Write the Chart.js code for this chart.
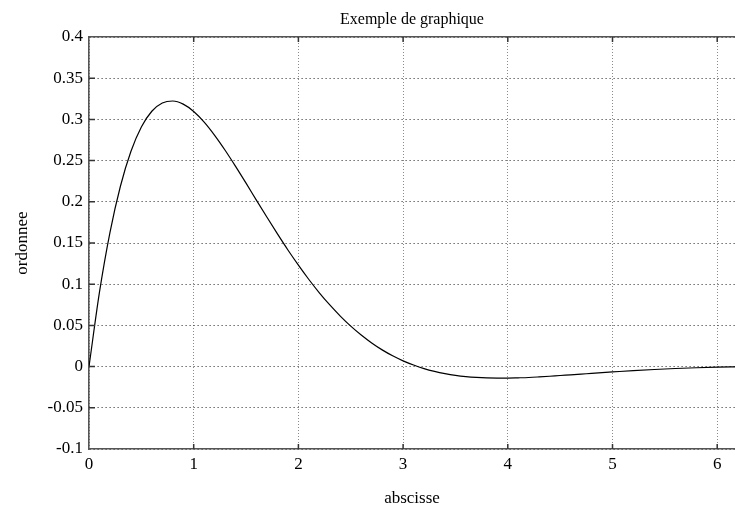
<!DOCTYPE html>
<html>
<head>
<meta charset="utf-8">
<script src="https://cdn.jsdelivr.net/npm/chart.js@4.4.0/dist/chart.umd.min.js"></script>
<style>
html,body{margin:0;padding:0;background:#fff;}
#wrap{width:735px;height:506px;}
</style>
</head>
<body>
<div id="wrap"><canvas id="c" width="735" height="506"></canvas></div>
<script>
const titleText = "Exemple de graphique";
const xTitle = "abscisse";
const yTitle = "ordonnee";
const xValues = [0,0.1,0.2,0.3,0.4,0.5,0.6,0.7,0.8,0.9,1.0,1.1,1.2,1.3,1.4,1.5,1.6,1.7,1.8,1.9,2.0,2.1,2.2,2.3,2.4,2.5,2.6,2.7,2.8,2.9,3.0,3.1,3.2,3.3,3.4,3.5,3.6,3.7,3.8,3.9,4.0,4.1,4.2,4.3,4.4,4.5,4.6,4.7,4.8,4.9,5.0,5.2,5.4,5.6,5.8,6.0,6.2];
const yValues = [0,0.0903,0.1627,0.2189,0.2610,0.2908,0.3099,0.3199,0.3223,0.3185,0.3096,0.2967,0.2807,0.2626,0.2430,0.2226,0.2018,0.1812,0.1610,0.1415,0.1231,0.1057,0.0896,0.0748,0.0613,0.0491,0.0383,0.0287,0.0203,0.0131,0.0070,0.0019,-0.0024,-0.0058,-0.0085,-0.0106,-0.0121,-0.0131,-0.0137,-0.0139,-0.0139,-0.0136,-0.0132,-0.0125,-0.0117,-0.0108,-0.0100,-0.0091,-0.0082,-0.0073,-0.0065,-0.0049,-0.0035,-0.0023,-0.0014,-0.0007,-0.0002];
const xTicks = [0,1,2,3,4,5,6];
const yTicks = [-0.1,-0.05,0,0.05,0.1,0.15,0.2,0.25,0.3,0.35,0.4];
const xMin = 0, xMax = 6.17, yMin = -0.1, yMax = 0.4;

const points = xValues.map((x,i)=>({x:x, y:yValues[i]}));
const FONT = "'Liberation Serif', 'DejaVu Serif', serif";

const inwardTicks = {
  id:'inwardTicks',
  afterDraw(chart){
    const ctx = chart.ctx, a = chart.chartArea;
    const xs = chart.scales.x, ys = chart.scales.y;
    ctx.save();
    ctx.strokeStyle = '#333';
    ctx.lineWidth = 1.5;
    ctx.beginPath();
    xTicks.forEach(v=>{
      const px = xs.getPixelForValue(v);
      if (px > a.left+1 && px < a.right) {
        ctx.moveTo(px, a.bottom); ctx.lineTo(px, a.bottom-5);
        ctx.moveTo(px, a.top); ctx.lineTo(px, a.top+5);
      }
    });
    yTicks.forEach(v=>{
      const py = ys.getPixelForValue(v);
      if (py > a.top+1 && py < a.bottom-1) {
        ctx.moveTo(a.left, py); ctx.lineTo(a.left+6, py);
      }
    });
    ctx.stroke();
    ctx.restore();
  }
};

new Chart(document.getElementById('c'), {
  type:'line',
  data:{ datasets:[{
    data: points,
    borderColor:'#000',
    borderWidth:1.2,
    pointRadius:0,
    fill:false,
    cubicInterpolationMode:'monotone'
  }]},
  options:{
    responsive:false,
    animation:false,
    layout:{padding:{left:0,right:0,top:0,bottom:0}},
    plugins:{
      legend:{display:false},
      tooltip:{enabled:false},
      title:{
        display:true,
        text:titleText,
        fullSize:false,
        color:'#000',
        font:{family:FONT,size:16,weight:'normal',lineHeight:1.2},
        padding:{top:10,bottom:7.8}
      }
    },
    scales:{
      x:{
        type:'linear', position:'bottom', min:xMin, max:xMax,
        afterBuildTicks(s){ s.ticks = xTicks.map(v=>({value:v})); },
        afterFit(s){ s.height = 57; },
        ticks:{ color:'#000', font:{family:FONT,size:17}, padding:5, maxRotation:0,
          callback:(v)=>String(v) },
        grid:{ color:'#8a8a8a', lineWidth:1, drawTicks:false },
        border:{ display:true, color:'#555', width:1.6, dash:[1,2] },
        title:{ display:true, text:xTitle, color:'#000',
          font:{family:FONT,size:17,lineHeight:1.0}, padding:{top:0,bottom:-1} }
      },
      x2:{
        type:'linear', position:'top', min:xMin, max:xMax,
        afterFit(s){ s.height = 0; },
        ticks:{display:false},
        grid:{display:false, drawTicks:false},
        border:{ display:true, color:'#555', width:1.6 }
      },
      y:{
        type:'linear', position:'left', min:yMin, max:yMax,
        afterBuildTicks(s){ s.ticks = yTicks.map(v=>({value:v})); },
        afterFit(s){ s.width = 89; },
        ticks:{ color:'#000', font:{family:FONT,size:17}, padding:6,
          callback:(v)=>String(Math.round(v*100)/100) },
        grid:{ color:'#222', lineWidth:1, drawTicks:false },
        border:{ display:true, color:'#555', width:1.6, dash:[1,3] },
        title:{ display:true, text:yTitle, color:'#000',
          font:{family:FONT,size:17,lineHeight:1.2}, padding:{top:12,bottom:0} }
      }
    }
  },
  plugins:[inwardTicks]
});
</script>
</body>
</html>
